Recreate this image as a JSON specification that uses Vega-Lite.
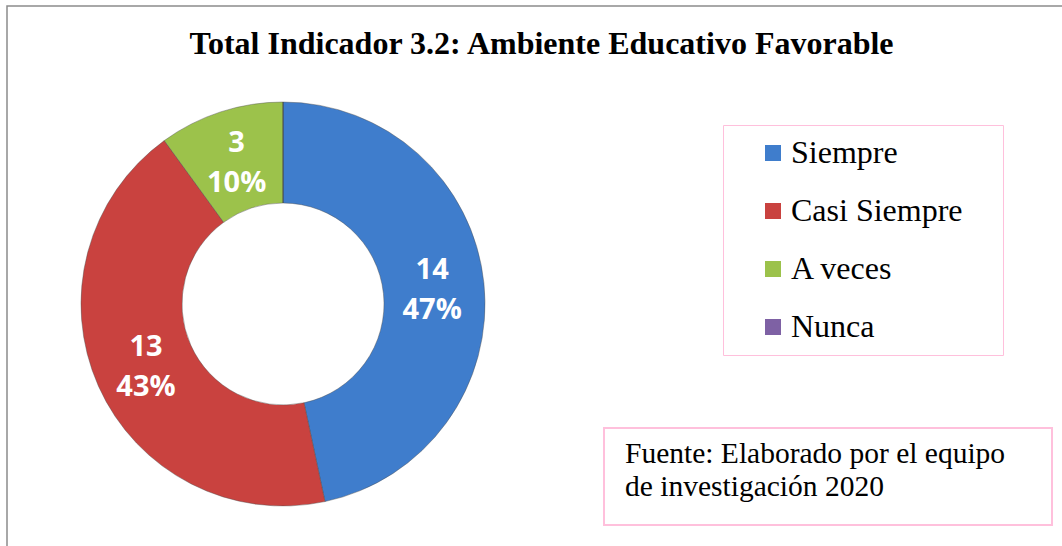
{
  "$schema": "https://vega.github.io/schema/vega-lite/v6.json",
  "width": 1062,
  "height": 546,
  "autosize": {"type": "fit", "contains": "padding"},
  "padding": {"left": 7, "top": 6, "right": -4, "bottom": -4},
  "background": "white",
  "view": {"stroke": "#8c8c8c", "strokeWidth": 1.5, "fill": "white"},
  "title": {
    "text": "Total Indicador 3.2: Ambiente Educativo Favorable",
    "font": "Liberation Serif",
    "fontSize": 32,
    "fontWeight": "bold",
    "color": "black",
    "anchor": "middle",
    "baseline": "alphabetic",
    "offset": -80,
    "dx": 5
  },
  "datasets": {
    "datos": [
      {"categoria": "Siempre", "valor": 14, "etiqueta": "14\n47%"},
      {"categoria": "Casi Siempre", "valor": 13, "etiqueta": "13\n43%"},
      {"categoria": "A veces", "valor": 3, "etiqueta": "3\n10%"},
      {"categoria": "Nunca", "valor": 0, "etiqueta": "0\n0%"}
    ],
    "fuente": [
      {"texto": "Fuente: Elaborado por el equipo\nde investigación 2020"}
    ]
  },
  "layer": [
    {
      "data": {"name": "datos"},
      "mark": {"type": "arc", "x": 276, "y": 298, "radius": 202, "radius2": 101, "stroke": "#4a4a4a", "strokeWidth": 0.6, "strokeOpacity": 0.7},
      "encoding": {
        "theta": {"field": "valor", "type": "quantitative", "stack": true},
        "order": {"field": "valor", "type": "quantitative", "sort": "descending"},
        "color": {
          "field": "categoria",
          "type": "nominal",
          "sort": ["Siempre", "Casi Siempre", "A veces", "Nunca"],
          "scale": {
            "domain": ["Siempre", "Casi Siempre", "A veces", "Nunca"],
            "range": ["#3f7dcc", "#c9423f", "#9cc24b", "#7e61a4"]
          },
          "legend": {
            "title": "\u00a0",
            "titleOrient": "right",
            "titlePadding": 28,
            "titleFontSize": 32,
            "orient": "none",
            "legendX": 716,
            "legendY": 119,
            "strokeColor": "#ffc0dc",
            "padding": 12,
            "symbolType": "square",
            "symbolSize": 256,
            "symbolOffset": 22,
            "symbolStrokeWidth": 0,
            "symbolOpacity": 1,
            "labelOffset": 2,
            "labelLimit": 400,
            "labelFont": "Liberation Serif",
            "labelFontSize": 32,
            "labelColor": "black",
            "rowPadding": 26,
            "encode": {"legend": {"update": {"strokeWidth": {"value": 2}, "stroke": {"value": "#ffc0dc"}}}}
          }
        }
      }
    },
    {
      "data": {"name": "datos"},
      "transform": [{"filter": "datum.valor > 0"}],
      "mark": {"type": "text", "x": 276, "y": 298, "radius": 150, "dy": -18, "font": "Open Sans", "fontSize": 29, "fontWeight": "bold", "color": "white", "align": "center", "baseline": "middle", "lineBreak": "\n", "lineHeight": 40},
      "encoding": {
        "theta": {"field": "valor", "type": "quantitative", "stack": true},
        "order": {"field": "valor", "type": "quantitative", "sort": "descending"},
        "text": {"field": "etiqueta", "type": "nominal"}
      }
    },
    {
      "data": {"name": "fuente"},
      "mark": {"type": "rect", "x": 597, "y": 422, "x2": 1045, "y2": 519, "fill": "white", "stroke": "#ffc0dc", "strokeWidth": 2},
      "encoding": {}
    },
    {
      "data": {"name": "fuente"},
      "mark": {"type": "text", "x": 618, "y": 457, "align": "left", "baseline": "alphabetic", "font": "Liberation Serif", "fontSize": 29.5, "color": "black", "lineBreak": "\n", "lineHeight": 33},
      "encoding": {
        "text": {"field": "texto", "type": "nominal"}
      }
    }
  ]
}
